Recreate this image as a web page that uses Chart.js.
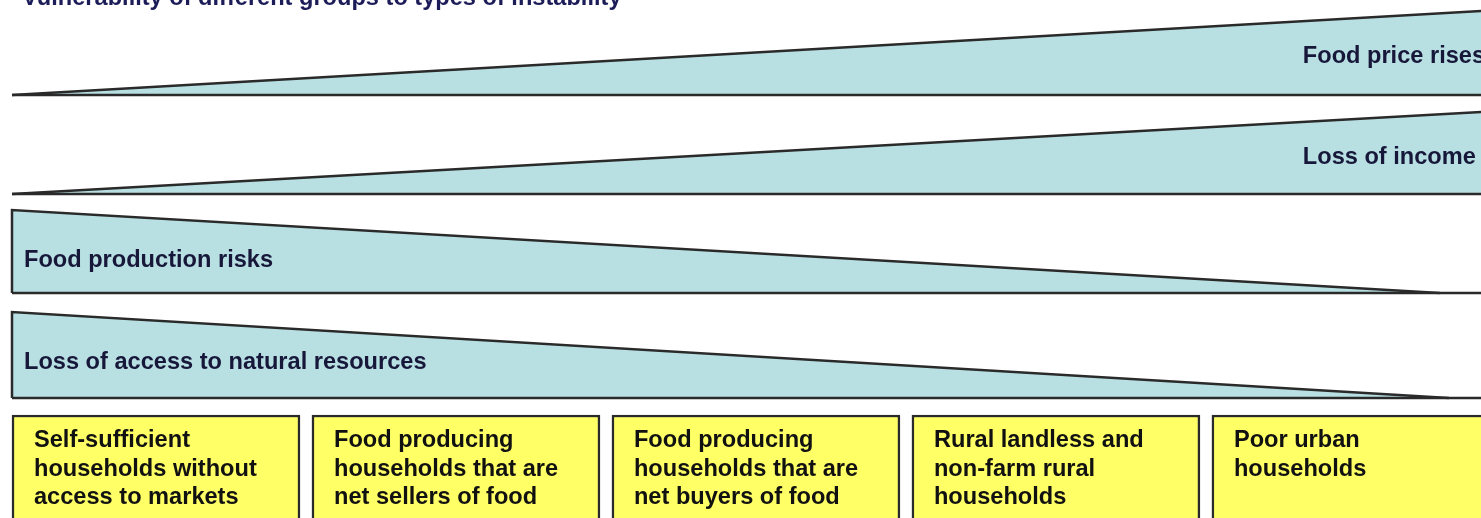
<!DOCTYPE html>
<html>
<head>
<meta charset="utf-8">
<script src="https://cdn.jsdelivr.net/npm/chart.js@4"></script>
<style>
  html, body { margin: 0; padding: 0; background: #fff; }
  #wrap { width: 1481px; height: 518px; position: relative; overflow: hidden; }
</style>
</head>
<body>
<div id="wrap"><canvas id="chart"></canvas></div>
<script>
// Texts
const title = 'Vulnerability of different groups to types of instability';
const wedgeLabels = ['Food price rises', 'Loss of income', 'Food production risks', 'Loss of access to natural resources'];

// Wedge thickness at the left end and at the far end (x in household-group units)
const wedgeEndX = [4.96, 4.96, 4.76, 4.79];
const wedgeStart = [0, 0, 83, 86];
const wedgeEnd = [85, 83, 0, 0];

// Household groups along the bottom
const groups = [
  ['Self-sufficient', 'households without', 'access to markets'],
  ['Food producing', 'households that are', 'net sellers of food'],
  ['Food producing', 'households that are', 'net buyers of food'],
  ['Rural landless and', 'non-farm rural', 'households'],
  ['Poor urban', 'households']
];

// Layout (not data)
const layout = {
  laneBase: [423, 324, 225, 120],
  labelX: [4.303, 4.303, 0.04, 0.04],
  labelAbove: [39, 37, 33, 36],
  boxTop: 103,
  boxBottom: -20,
  textPad: 22,
  firstLine: 32,
  lineGap: 28.5
};

const font = 'bold 23.6px "Liberation Sans", Arial, sans-serif';
const wedgeFill = '#b8e0e3';
const edge = '#2a2a2a';

const datasets = [];
wedgeLabels.forEach((name, i) => {
  const base = layout.laneBase[i];
  datasets.push({
    type: 'line',
    label: name,
    order: 2,
    data: [
      { x: 0, y: base },
      { x: 0, y: base + wedgeStart[i] },
      { x: wedgeEndX[i], y: base + wedgeEnd[i] }
    ],
    borderColor: edge,
    borderWidth: 2.5,
    backgroundColor: wedgeFill,
    fill: { value: base },
    pointRadius: 0,
    tension: 0
  });
  datasets.push({
    type: 'line',
    label: name + ' base',
    order: 1,
    data: [{ x: 0, y: base }, { x: 4.96, y: base }],
    borderColor: edge,
    borderWidth: 2.5,
    fill: false,
    pointRadius: 0
  });
});
const barIndex = datasets.length;
datasets.push({
  type: 'bar',
  label: 'groups',
  order: 3,
  data: groups.map((g, i) => ({ x: i + 0.48, y: [layout.boxBottom, layout.boxTop] })),
  backgroundColor: '#ffff66',
  borderColor: edge,
  borderWidth: 2.5,
  borderSkipped: false,
  barThickness: 288
});

const textPlugin = {
  id: 'texts',
  afterDatasetsDraw(chart) {
    const ctx = chart.ctx;
    const xs = chart.scales.x;
    const ys = chart.scales.y;
    ctx.save();
    ctx.font = font;
    ctx.textAlign = 'left';

    ctx.textBaseline = 'alphabetic';
    ctx.fillStyle = '#1c1c58';
    ctx.fillText(title, 22, 5);

    ctx.textBaseline = 'middle';
    ctx.fillStyle = '#17173a';
    wedgeLabels.forEach((t, i) => {
      ctx.fillText(t, xs.getPixelForValue(layout.labelX[i]),
        ys.getPixelForValue(layout.laneBase[i] + layout.labelAbove[i]));
    });

    ctx.textBaseline = 'alphabetic';
    ctx.fillStyle = '#111111';
    const bars = chart.getDatasetMeta(barIndex).data;
    const top = ys.getPixelForValue(layout.boxTop);
    groups.forEach((lines, i) => {
      const left = bars[i].x - bars[i].width / 2;
      lines.forEach((line, j) => {
        ctx.fillText(line, left + layout.textPad, top + layout.firstLine + j * layout.lineGap);
      });
    });
    ctx.restore();
  }
};

new Chart(document.getElementById('chart'), {
  type: 'line',
  data: { datasets: datasets },
  options: {
    responsive: true,
    maintainAspectRatio: false,
    animation: false,
    layout: { padding: 0 },
    plugins: { legend: { display: false }, tooltip: { enabled: false } },
    scales: {
      x: { type: 'linear', min: -0.04, max: 4.897, offset: false, display: false },
      y: { type: 'linear', min: 0, max: 518, display: false }
    }
  },
  plugins: [textPlugin]
});
</script>
</body>
</html>
